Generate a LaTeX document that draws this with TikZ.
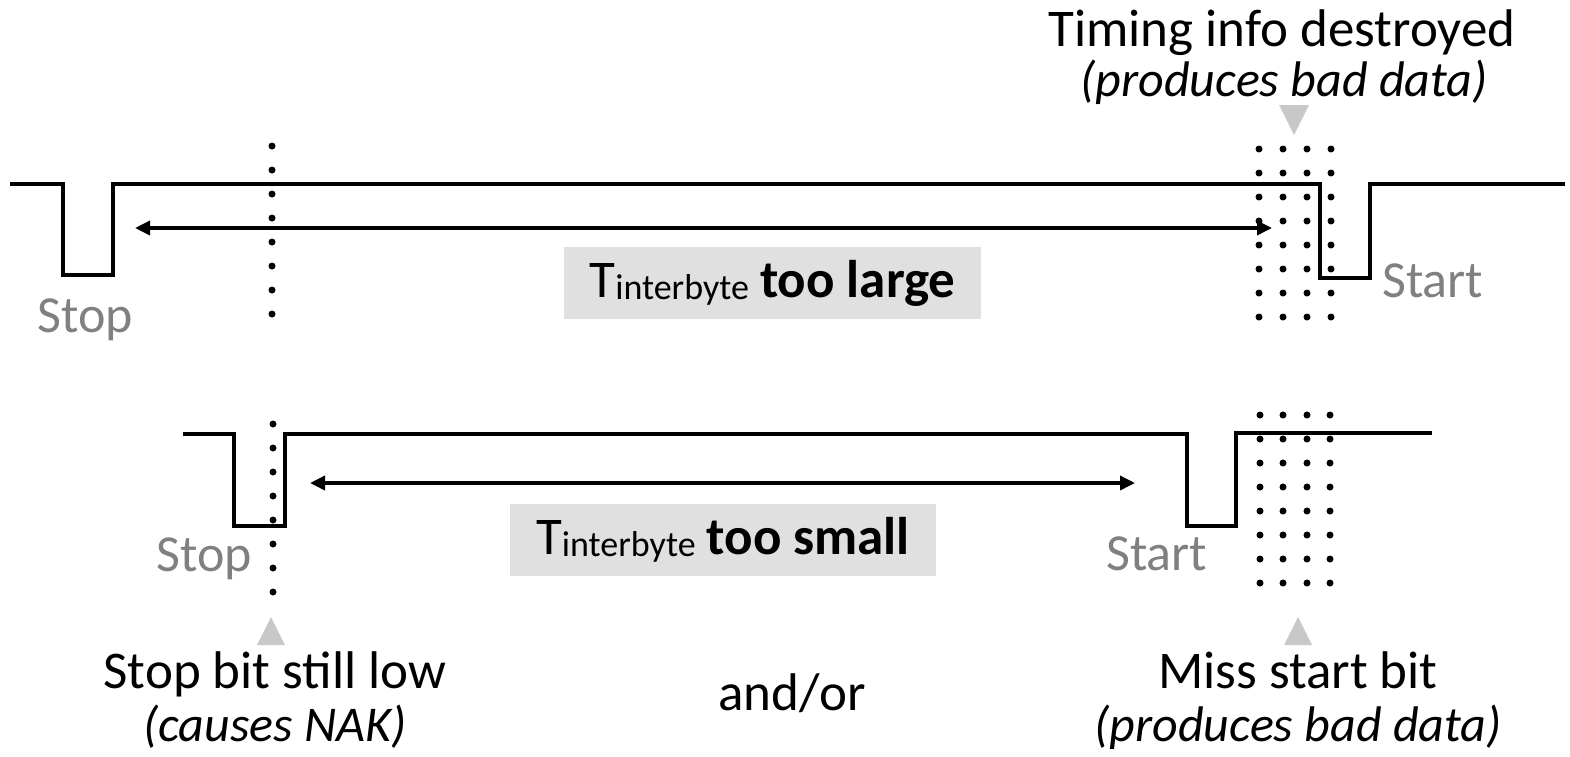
\documentclass[tikz,border=0pt]{standalone}
\usepackage{fontspec}
\setmainfont{Carlito}
\usetikzlibrary{arrows.meta}
\definecolor{lbl}{HTML}{808080}
\definecolor{tri}{HTML}{C8C8C8}
\definecolor{boxfill}{HTML}{E0E0E0}
\tikzset{
  wave/.style={line width=4.5pt, line join=miter},
  dimarrow/.style={line width=3.5pt, {Triangle[length=15pt,width=14pt]}-{Triangle[length=15pt,width=14pt]}},
  graylabel/.style={text=lbl, font=\fontsize{52}{62}\selectfont, inner sep=0pt, anchor=base west},
  caption/.style={font=\fontsize{53}{64}\selectfont, inner sep=0pt, anchor=base},
  itcaption/.style={font=\fontsize{50}{60}\selectfont\itshape, inner sep=0pt, anchor=base},
  tbox/.style={fill=boxfill, inner sep=0pt, minimum height=72pt},
  marker/.style={fill=tri}
}
\newcommand{\tib}[1]{{\fontsize{53}{64}\selectfont T}{\fontsize{36}{40}\selectfont\raisebox{-2pt}{interbyte}}\hspace{11pt}{\fontsize{53}{64}\selectfont\bfseries #1}}
\begin{document}
\begin{tikzpicture}[x=1pt,y=-1pt]
\useasboundingbox (0,0) rectangle (1570,756);

% top waveform
\draw[wave] (10,184) -- (63,184) -- (63,275) -- (113,275) -- (113,184) -- (1320,184) -- (1320,278) -- (1370,278) -- (1370,184) -- (1565,184);
% bottom waveform
\draw[wave] (183,434) -- (234,434) -- (234,526) -- (285,526) -- (285,434) -- (1187,434) -- (1187,526) -- (1236,526) -- (1236,433) -- (1432,433);

% dotted markers
\foreach \i in {0,...,7} {
  \fill (272,146+24*\i) circle (3.5pt);
  \fill (273,424+24*\i) circle (3.5pt);
  \foreach \x in {1259,1283,1307,1331} {
    \fill (\x,149+24*\i) circle (3.5pt);
  }
  \foreach \x in {1260,1283,1307,1330} {
    \fill (\x,415+24*\i) circle (3.5pt);
  }
}

% arrows
\coordinate (a1) at (135,228);
\coordinate (a2) at (1272,228);
\coordinate (b1) at (310,483);
\coordinate (b2) at (1135,483);
\draw[dimarrow] (a1) -- (a2);
\draw[dimarrow] (b1) -- (b2);

% boxes
\node[tbox, minimum width=417pt] (boxA) at (772.5,283) {\tib{too large}};
\node[tbox, minimum width=426pt] (boxB) at (723,540) {\tib{too small}};

% gray labels
\node[graylabel] (stopA) at (37,332) {Stop};
\node[graylabel] (startA) at (1382,297) {Start};
\node[graylabel] (stopB) at (156,571) {Stop};
\node[graylabel] (startB) at (1106,570) {Start};

% triangles
\fill[marker] (1279,105) -- (1309,105) -- (1294,135) -- cycle;
\fill[marker] (257,645) -- (285,645) -- (271,617) -- cycle;
\fill[marker] (1284,645) -- (1312,645) -- (1298,617) -- cycle;

% captions
\node[caption] (timing) at (1282,46) {Timing info destroyed};
\node[itcaption] (badA) at (1284,96) {(produces bad data)};
\node[caption] (stopbit) at (275,688) {Stop bit still low};
\node[itcaption] (nak) at (275,741) {(causes NAK)};
\node[caption] (andor) at (792,710) {and/or};
\node[caption] (miss) at (1298,688) {Miss start bit};
\node[itcaption] (badB) at (1298,741) {(produces bad data)};
\end{tikzpicture}
\end{document}
